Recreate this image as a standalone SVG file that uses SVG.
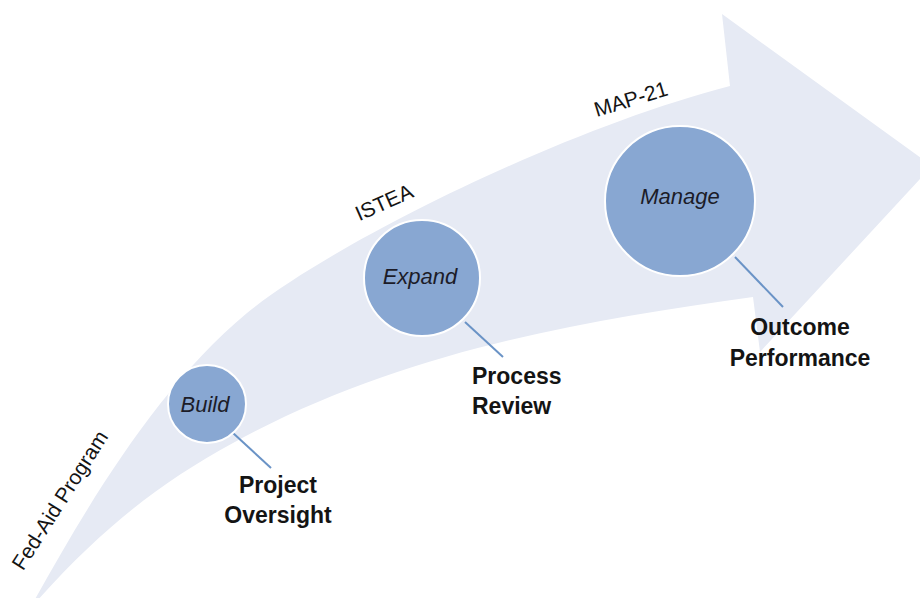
<svg xmlns="http://www.w3.org/2000/svg" width="920" height="598" viewBox="0 0 920 598">
  <style>
    .band { fill: #e6eaf4; stroke: none; }
    .node circle { fill: #88a7d2; stroke: #ffffff; stroke-width: 2; }
    .inner { font-family: "Liberation Sans", Arial, sans-serif; font-style: italic; font-size: 22px; fill: #1c1c28; text-anchor: middle; }
    .label { font-family: "Liberation Sans", Arial, sans-serif; font-weight: bold; font-size: 23px; fill: #141414; }
    .era { font-family: "Liberation Sans", Arial, sans-serif; font-size: 21px; fill: #141414; text-anchor: middle; }
    .conn line { stroke: #6a93c6; stroke-width: 2; }
  </style>
  <rect width="920" height="598" fill="#ffffff"/>
  <g id="arrow">
    <path class="band" d="M29,610 C89,502 157,388 247,313 C330,245 560,130 730,86 L722,14 L932,166 L760,352 L753,297 C583,321 403,350 233,443 C158,484 99,530 29,610 Z"/>
    <text class="era" transform="translate(66,504) rotate(-57.5)">Fed-Aid Program</text>
    <text class="era" transform="translate(387,209) rotate(-24)">ISTEA</text>
    <text class="era" transform="translate(633,106) rotate(-17)">MAP-21</text>
  </g>
  <g id="connectors" class="conn">
    <line x1="233" y1="433" x2="271" y2="468"/>
    <line x1="465" y1="322" x2="503" y2="357"/>
    <line x1="735" y1="257" x2="783" y2="307"/>
  </g>
  <g id="build" class="node">
    <circle cx="207" cy="404" r="39"/>
    <text class="inner" x="205" y="412">Build</text>
  </g>
  <g id="expand" class="node">
    <circle cx="422" cy="278" r="58"/>
    <text class="inner" x="420" y="284">Expand</text>
  </g>
  <g id="manage" class="node">
    <circle cx="680" cy="201" r="75"/>
    <text class="inner" x="680" y="204">Manage</text>
  </g>
  <g id="project-oversight">
    <text class="label" x="278" y="493" text-anchor="middle">Project</text>
    <text class="label" x="278" y="523" text-anchor="middle">Oversight</text>
  </g>
  <g id="process-review">
    <text class="label" x="472" y="384">Process</text>
    <text class="label" x="472" y="414">Review</text>
  </g>
  <g id="outcome-performance">
    <text class="label" x="800" y="335" text-anchor="middle">Outcome</text>
    <text class="label" x="800" y="366" text-anchor="middle">Performance</text>
  </g>
</svg>
